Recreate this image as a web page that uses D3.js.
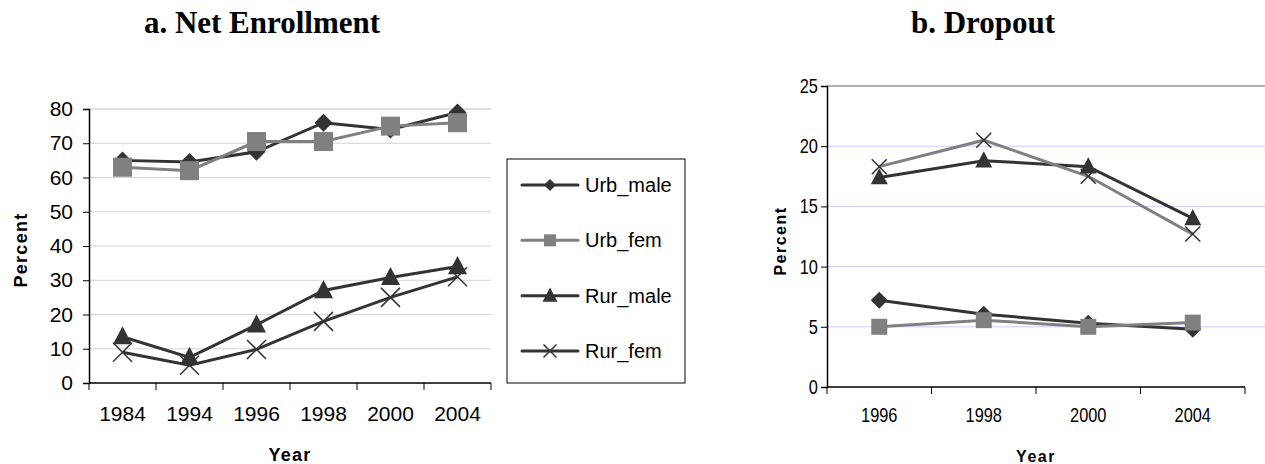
<!DOCTYPE html>
<html>
<head>
<meta charset="UTF-8">
<title></title>
<script src="https://d3js.org/d3.v7.min.js"></script>
<style>
  body { margin: 0; background: #fff; }
  text { font-family: Arial, "Liberation Sans", sans-serif; }
</style>
</head>
<body>
<div id="chart"></div>
<script>
// ---- data ----
var enrollYears = ["1984", "1994", "1996", "1998", "2000", "2004"];
var enrollUrbMale = [65, 64.5, 67.5, 76, 74, 79];
var enrollUrbFem  = [63, 62, 70.5, 70.5, 75, 76];
var enrollRurMale = [13.5, 7.5, 17, 27, 30.8, 34];
var enrollRurFem  = [9, 5.2, 9.8, 18, 25, 31];
var enrollTicks = [0, 10, 20, 30, 40, 50, 60, 70, 80];

var dropYears = ["1996", "1998", "2000", "2004"];
var dropUrbMale = [7.2, 6.05, 5.3, 4.8];
var dropUrbFem  = [5, 5.55, 5, 5.35];
var dropRurMale = [17.4, 18.8, 18.3, 14];
var dropRurFem  = [18.3, 20.5, 17.5, 12.7];
var dropTicks = [0, 5, 10, 15, 20, 25];

var seriesNames = ["Urb_male", "Urb_fem", "Rur_male", "Rur_fem"];

var dark = "#333333", gray = "#808080";

var svg = d3.select("#chart").append("svg")
  .attr("width", 1265).attr("height", 464);

// marker drawing
function marker(g, type, cx, cy, s) {
  if (type == "diamond") {
    g.append("path").attr("d", "M" + cx + "," + (cy - s) + "L" + (cx + s) + "," + cy +
      "L" + cx + "," + (cy + s) + "L" + (cx - s) + "," + cy + "Z").attr("fill", dark);
  } else if (type == "square") {
    g.append("rect").attr("x", cx - s).attr("y", cy - s).attr("width", 2 * s).attr("height", 2 * s)
      .attr("fill", gray);
  } else if (type == "triangle") {
    g.append("path").attr("d", "M" + cx + "," + (cy - s * 1.1) + "L" + (cx + s) + "," + (cy + s * 0.8) +
      "L" + (cx - s) + "," + (cy + s * 0.8) + "Z").attr("fill", dark);
  } else {
    g.append("path").attr("d", "M" + (cx - s) + "," + (cy - s) + "L" + (cx + s) + "," + (cy + s) +
      "M" + (cx + s) + "," + (cy - s) + "L" + (cx - s) + "," + (cy + s))
      .attr("stroke", dark).attr("stroke-width", 1.5).attr("fill", "none");
  }
}

function drawPanel(opt) {
  var x = d3.scaleBand().domain(opt.years).range(opt.xr);
  var y = d3.scaleLinear().domain(opt.ydom).range(opt.yr);
  var g = svg.append("g");

  // gridlines
  g.selectAll(".grid").data(opt.ticks.filter(function(t) { return t > 0; }))
    .enter().append("line")
    .attr("x1", opt.xr[0]).attr("x2", opt.gridEnd)
    .attr("y1", function(d) { return y(d); }).attr("y2", function(d) { return y(d); })
    .attr("stroke", function(d) { return d == opt.ydom[1] ? opt.topColor : opt.gridColor; })
    .attr("stroke-width", function(d) { return d == opt.ydom[1] ? 1.5 : 1; });

  // y axis
  var ya = g.append("g").attr("transform", "translate(" + opt.xr[0] + ",0)")
    .call(d3.axisLeft(y).tickValues(opt.ticks).tickSize(6).tickPadding(opt.tickPad));
  ya.select(".domain").attr("stroke", "#000").attr("stroke-width", 1.5);
  ya.selectAll("line").attr("stroke", "#000");
  ya.selectAll("text").attr("font-size", opt.tickFont).attr("fill", "#000")
    .attr("transform", "scale(" + opt.squeeze + ",1)");

  // x axis: ticks at category boundaries
  var xa = g.append("g").attr("transform", "translate(0," + opt.yr[0] + ")");
  xa.append("line").attr("x1", opt.xr[0]).attr("x2", opt.xr[1]).attr("stroke", "#000").attr("stroke-width", 1.5);
  var bounds = opt.years.map(function(d) { return x(d); }).concat([opt.xr[1]]);
  xa.selectAll(".tk").data(bounds).enter().append("line")
    .attr("x1", function(d) { return d; }).attr("x2", function(d) { return d; })
    .attr("y1", 0).attr("y2", 7).attr("stroke", "#000");
  xa.selectAll(".lb").data(opt.years).enter().append("text")
    .attr("transform", function(d) {
      return "translate(" + (x(d) + x.bandwidth() / 2) + "," + opt.xLabelDy + ") scale(" + opt.squeeze + ",1)";
    })
    .attr("text-anchor", "middle").attr("dominant-baseline", "central")
    .attr("font-size", opt.tickFont).text(function(d) { return d; });

  // series
  var line = d3.line()
    .x(function(d, i) { return x(opt.years[i]) + x.bandwidth() / 2; })
    .y(function(d) { return y(d); });
  opt.series.forEach(function(s) {
    g.append("path").datum(s.values).attr("fill", "none")
      .attr("stroke", s.color).attr("stroke-width", 3).attr("d", line);
  });
  opt.series.forEach(function(s) {
    s.values.forEach(function(v, i) {
      marker(g, s.marker, x(opt.years[i]) + x.bandwidth() / 2, y(v), s.size);
    });
  });

  // axis titles
  g.append("text").attr("transform", "translate(" + opt.yTitle[0] + "," + opt.yTitle[1] + ") rotate(-90)")
    .attr("text-anchor", "middle").attr("dominant-baseline", "central")
    .attr("font-size", opt.titleFont).attr("font-weight", "bold").attr("letter-spacing", opt.spacing)
    .text("Percent");
  g.append("text").attr("x", opt.xTitle[0]).attr("y", opt.xTitle[1])
    .attr("text-anchor", "middle").attr("dominant-baseline", "central")
    .attr("font-size", opt.titleFont).attr("font-weight", "bold")
    .attr("letter-spacing", opt.spacing).text("Year");

  // panel heading
  svg.append("text").attr("x", opt.head).attr("y", 33).attr("text-anchor", "middle")
    .attr("font-size", 31).attr("font-weight", "bold")
    .style("font-family", "'Liberation Serif', 'Times New Roman', serif")
    .text(opt.heading);
}

drawPanel({
  years: enrollYears, xr: [89, 491], ydom: [0, 80], yr: [383, 109], ticks: enrollTicks,
  gridEnd: 491, gridColor: "#d4d4d4", topColor: "#d4d4d4",
  tickFont: 21, squeeze: 1, tickPad: 10, xLabelDy: 30,
  titleFont: 18, spacing: 1.3, yTitle: [21, 250], xTitle: [290, 455],
  head: 262, heading: "a. Net Enrollment",
  series: [
    { values: enrollUrbMale, color: dark, marker: "diamond", size: 9 },
    { values: enrollUrbFem, color: gray, marker: "square", size: 9.5 },
    { values: enrollRurMale, color: dark, marker: "triangle", size: 9.5 },
    { values: enrollRurFem, color: dark, marker: "x", size: 9.5 }
  ]
});

drawPanel({
  years: dropYears, xr: [827, 1245], ydom: [0, 25], yr: [387, 86], ticks: dropTicks,
  gridEnd: 1265, gridColor: "#ccccff", topColor: "#999999",
  tickFont: 20, squeeze: 0.82, tickPad: 5, xLabelDy: 28,
  titleFont: 16, spacing: 1.5, yTitle: [780, 241], xTitle: [1036, 456],
  head: 983, heading: "b. Dropout",
  series: [
    { values: dropUrbMale, color: dark, marker: "diamond", size: 8.5 },
    { values: dropUrbFem, color: gray, marker: "square", size: 8 },
    { values: dropRurMale, color: dark, marker: "triangle", size: 8.5 },
    { values: dropRurFem, color: gray, marker: "x", size: 7.5 }
  ]
});

// legend for panel a
var leg = svg.append("g");
leg.append("rect").attr("x", 507).attr("y", 159).attr("width", 178).attr("height", 224)
  .attr("fill", "#fff").attr("stroke", "#000").attr("stroke-width", 1);
var legY = d3.scalePoint().domain(seriesNames).range([185, 351]);
var legStyle = [
  { color: dark, marker: "diamond", size: 6 },
  { color: gray, marker: "square", size: 6 },
  { color: dark, marker: "triangle", size: 7.5 },
  { color: dark, marker: "x", size: 6.5 }
];
seriesNames.forEach(function(n, i) {
  var yy = legY(n);
  leg.append("line").attr("x1", 522).attr("x2", 578).attr("y1", yy).attr("y2", yy)
    .attr("stroke", legStyle[i].color).attr("stroke-width", 3).attr("stroke-linecap", "round");
  marker(leg, legStyle[i].marker, 550, yy, legStyle[i].size);
  leg.append("text").attr("x", 585).attr("y", yy).attr("dominant-baseline", "central")
    .attr("font-size", 20).text(n);
});
</script>
</body>
</html>
